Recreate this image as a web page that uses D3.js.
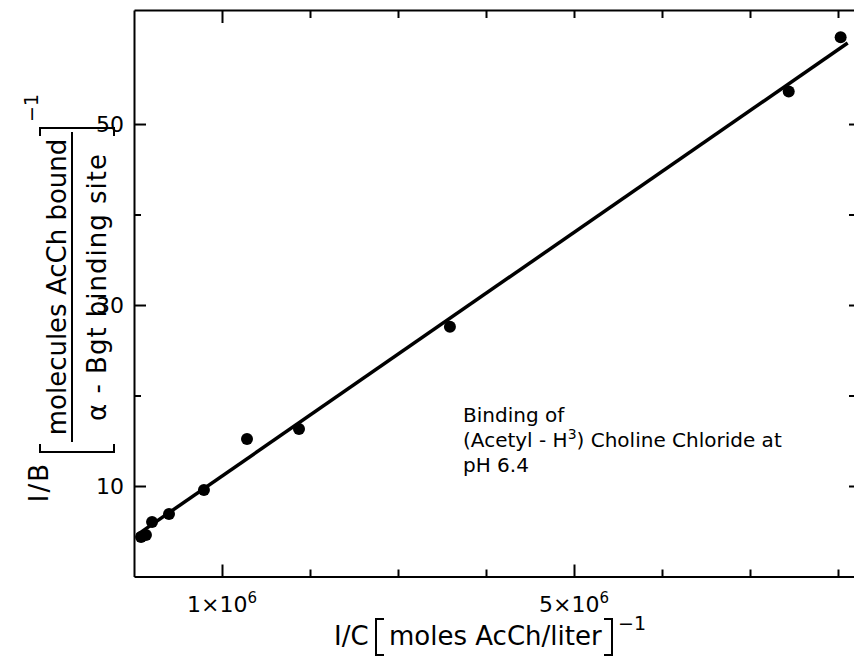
<!DOCTYPE html>
<html><head><meta charset="utf-8">
<script src="https://cdn.jsdelivr.net/npm/d3@7"></script>
<style>
body{margin:0;background:#fff}
svg text{font-family:"DejaVu Sans",sans-serif;fill:#000}
</style>
</head><body>
<svg id="c" width="854" height="662"></svg>
<script>
// ---- data ----
const xValues = [0.08e6, 0.136e6, 0.205e6, 0.398e6, 0.795e6, 1.284e6, 1.875e6, 3.59e6, 7.44e6, 8.03e6];
const yValues = [4.36, 4.59, 6.02, 6.91, 9.56, 15.2, 16.3, 27.6, 53.6, 59.6];
const fitX = [0.034e6, 8.11e6];
const fitY = [4.6, 58.95];
const xTicks = [1e6, 2e6, 3e6, 4e6, 5e6, 6e6, 7e6, 8e6];
const xMajorTicks = [1e6, 5e6];
const xTickLabels = [{v: 1e6, base: "1×10", exp: "6"}, {v: 5e6, base: "5×10", exp: "6"}];
const yTicks = [10, 20, 30, 40, 50];
const yTickLabels = [10, 30, 50];
const annotation = ["Binding of", "(Acetyl - H|3|) Choline Chloride at", "pH 6.4"];

const svg = d3.select('#c');
const x = d3.scaleLinear().domain([0, 8.25e6]).range([134, 860]);
const y = d3.scaleLinear().domain([0, 62.6]).range([576.5, 10]);
const isMajor = v => xMajorTicks.includes(v);

function styleAxis(g){
  g.selectAll('.domain').attr('stroke','#000').attr('stroke-width',2);
  g.selectAll('.tick line').attr('stroke','#000').attr('stroke-width',2);
  g.selectAll('.tick text').remove();
}
// bottom axis (ticks point up)
const gb = svg.append('g').attr('transform',`translate(0,${y(0)})`)
  .call(d3.axisTop(x).tickValues(xTicks).tickSize(7).tickSizeOuter(0).tickFormat(''));
gb.selectAll('.tick line').attr('y2', d => isMajor(d) ? -12 : -7);
styleAxis(gb);
// top axis (ticks point down)
const gt = svg.append('g').attr('transform',`translate(0,${y(62.6)})`)
  .call(d3.axisBottom(x).tickValues(xTicks).tickSize(8).tickSizeOuter(0).tickFormat(''));
gt.selectAll('.tick line').attr('y2', d => d === 1e6 ? 13 : 8);
styleAxis(gt);
// left axis (ticks point right)
const gl = svg.append('g').attr('transform',`translate(${x(0)},0)`)
  .call(d3.axisRight(y).tickValues(yTicks).tickSize(7).tickSizeOuter(0).tickFormat(''));
gl.selectAll('.tick line').attr('x2', d => yTickLabels.includes(d) ? 12 : 7);
styleAxis(gl);
// right axis (ticks point left)
const gr = svg.append('g').attr('transform',`translate(${x(8.25e6)},0)`)
  .call(d3.axisLeft(y).tickValues(yTicks).tickSize(11).tickSizeOuter(0).tickFormat(''));
styleAxis(gr);

// y tick labels
const gyl = svg.append('g').attr('transform',`translate(${x(0)},0)`)
  .call(d3.axisLeft(y).tickValues(yTickLabels).tickSize(0).tickPadding(10).tickFormat(d3.format('d')));
gyl.select('.domain').remove();
gyl.selectAll('text').style('font-family','"DejaVu Sans",sans-serif').attr('font-size',22).attr('fill','#000');

// x tick labels
xTickLabels.forEach(t => {
  const tx = svg.append('text').attr('x', x(t.v)).attr('y', 612)
    .attr('text-anchor','middle').attr('font-size',22);
  tx.append('tspan').text(t.base);
  tx.append('tspan').attr('dy',-9).attr('font-size',15).text(t.exp);
});

// fit line
svg.append('path')
  .attr('d', d3.line().x(d => x(d[0])).y(d => y(d[1]))(fitX.map((v,i)=>[v, fitY[i]])))
  .attr('stroke','#000').attr('stroke-width',3.5).attr('fill','none');

// points
svg.append('g').selectAll('circle').data(xValues.map((v,i)=>[v, yValues[i]])).join('circle')
  .attr('cx', d => x(d[0])).attr('cy', d => y(d[1])).attr('r', 6).attr('fill','#000');

// annotation
annotation.forEach((line, i) => {
  const t = svg.append('text').attr('x', 463).attr('y', 422 + i*25).attr('font-size', 20);
  const parts = line.split('|');
  if (parts.length === 1) { t.text(line); }
  else {
    t.append('tspan').text(parts[0]);
    t.append('tspan').attr('dy',-8).attr('font-size',14).text(parts[1]);
    t.append('tspan').attr('dy',8).attr('font-size',20).text(parts[2]);
  }
});

// x axis title
const xt = svg.append('g');
xt.append('text').attr('x',334).attr('y',645).attr('font-size',26).text('I/C');
xt.append('path').attr('d','M384,619 H376 V655 H384').attr('stroke','#000').attr('stroke-width',2).attr('fill','none');
xt.append('text').attr('x',389).attr('y',645).attr('font-size',26).text('moles AcCh/liter');
xt.append('path').attr('d','M604,619 H612 V655 H604').attr('stroke','#000').attr('stroke-width',2).attr('fill','none');
xt.append('text').attr('x',618).attr('y',630).attr('font-size',19).text('−1');

// y axis title (rotated)
const yt = svg.append('g').attr('transform','translate(0,290) rotate(-90)');
yt.append('text').attr('x',-172).attr('y',48).attr('text-anchor','end').attr('font-size',26).attr('letter-spacing',2).text('I/B');
yt.append('path').attr('d','M-154,40 H-162 V114 H-154').attr('stroke','#000').attr('stroke-width',2).attr('fill','none');
yt.append('text').attr('x',3).attr('y',66).attr('text-anchor','middle').attr('font-size',26).text('molecules AcCh bound');
yt.append('line').attr('x1',-152).attr('x2',158).attr('y1',72).attr('y2',72).attr('stroke','#000').attr('stroke-width',2);
yt.append('text').attr('x',3).attr('y',106).attr('text-anchor','middle').attr('font-size',26).attr('letter-spacing',1).text('α - Bgt binding site');
yt.append('path').attr('d','M154,40 H162 V114 H154').attr('stroke','#000').attr('stroke-width',2).attr('fill','none');
yt.append('text').attr('x',168).attr('y',38).attr('font-size',19).text('−1');
</script>
</body></html>
